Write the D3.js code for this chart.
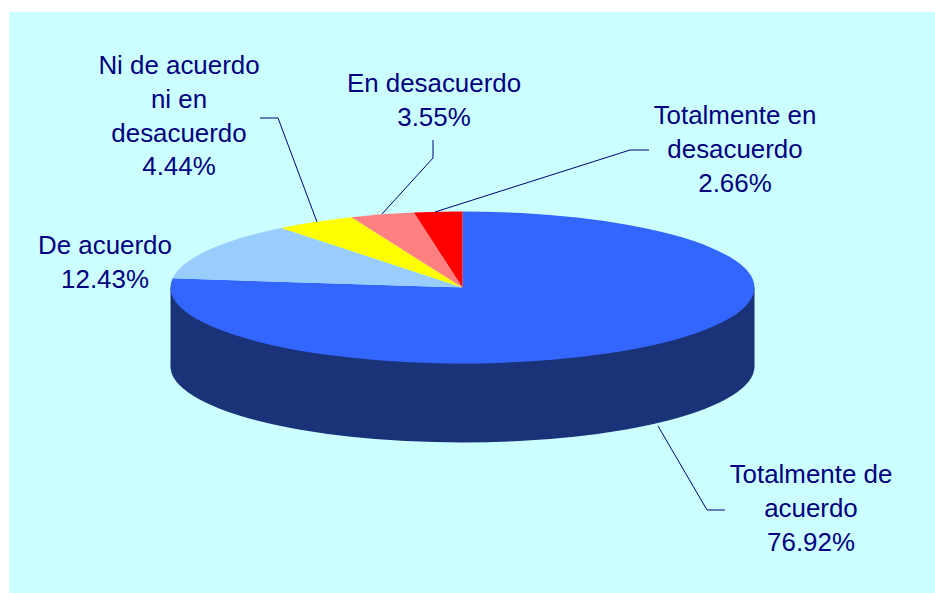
<!DOCTYPE html>
<html><head><meta charset="utf-8">
<script src="https://cdnjs.cloudflare.com/ajax/libs/d3/7.8.5/d3.min.js"></script>
<style>html,body{margin:0;padding:0;background:#fff}svg{display:block}
text{font-family:"Liberation Sans",Arial,sans-serif;font-size:25.9px;fill:#000080;text-anchor:middle}</style>
</head><body><svg id="c" width="935" height="593"></svg>
<script>
const categories=["Totalmente de acuerdo","De acuerdo","Ni de acuerdo ni en desacuerdo","En desacuerdo","Totalmente en desacuerdo"];
const values=[76.92,12.43,4.44,3.55,2.66];
const labelLines=[["Totalmente de","acuerdo"],["De acuerdo"],["Ni de acuerdo","ni en","desacuerdo"],["En desacuerdo"],["Totalmente en","desacuerdo"]];
const colors=["#3366ff","#99ccff","#ffff00","#ff8080","#ff0000"];
const sideColor="#1a3278";
const labelPos=[[811,483],[105,254],[179,74],[434,92],[735,124]];
const leaders=[[[658,426],[707,510],[725,510]],[],[[260,118],[278,118],[317,222]],[[433,140],[433,158],[382,214]],[[649,150],[630,150],[435,212]]];

const svg=d3.select("#c");
svg.append("rect").attr("x",9).attr("y",12).attr("width",926).attr("height",581).attr("fill","#ccffff");
const cx=462.5,cy=287.5,rx=292,ry=76,depth=79;
const arc=d3.arc().innerRadius(0).outerRadius(rx);
const pie=d3.pie().sort(null)(values);
const k=ry/rx;
const side=svg.append("g");
side.append("path").attr("transform",`translate(${cx},${cy+depth}) scale(1,${k})`)
  .attr("d",arc({startAngle:Math.PI/2,endAngle:3*Math.PI/2})).attr("fill",sideColor);
side.append("rect").attr("x",cx-rx).attr("y",cy).attr("width",2*rx).attr("height",depth+1).attr("fill",sideColor);
svg.append("g").attr("transform",`translate(${cx},${cy}) scale(1,${k})`)
  .selectAll("path").data(pie).join("path").attr("d",arc).attr("fill",(d,i)=>colors[i]);
const line=d3.line();
svg.append("g").selectAll("path").data(leaders.filter(l=>l.length)).join("path")
  .attr("d",line).attr("fill","none").attr("stroke","#000080").attr("stroke-width",1);
const lh=33.8;
values.forEach((v,i)=>{
  const t=svg.append("text");
  labelLines[i].concat([v.toFixed(2)+"%"]).forEach((s,j)=>t.append("tspan").attr("x",labelPos[i][0]).attr("y",labelPos[i][1]+j*lh).text(s));
});
</script></body></html>
